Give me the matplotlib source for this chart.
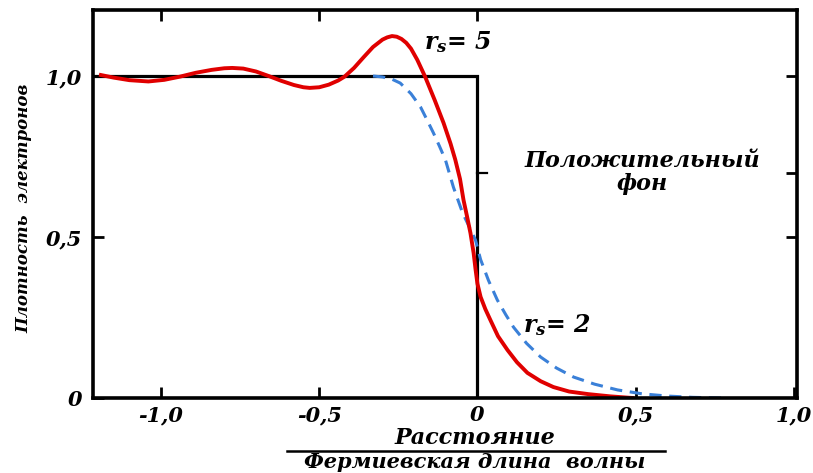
import matplotlib.pyplot as plt

plt.rcParams["mathtext.fontset"] = "custom"
plt.rcParams["mathtext.it"] = "DejaVu Serif:italic:bold"
plt.rcParams["mathtext.rm"] = "DejaVu Serif:italic:bold"

# electron density across the surface, r_s = 5 (solid) and r_s = 2 (dashed)
x_rs5 = [-1.19, -1.15, -1.10, -1.04, -0.99, -0.94, -0.89, -0.84, -0.80, -0.775,
         -0.74, -0.70, -0.66, -0.62, -0.58, -0.55, -0.53, -0.50, -0.47, -0.44,
         -0.42, -0.39, -0.36, -0.33, -0.30, -0.285, -0.27, -0.255, -0.24, -0.225,
         -0.21, -0.19, -0.165, -0.135, -0.107, -0.085, -0.07, -0.055, -0.044,
         -0.032, -0.022, -0.012, -0.006, 0.0, 0.01, 0.025, 0.041, 0.065, 0.095,
         0.125, 0.158, 0.20, 0.24, 0.29, 0.35, 0.42, 0.49]
y_rs5 = [1.003, 0.995, 0.987, 0.983, 0.988, 0.998, 1.010, 1.019, 1.024, 1.025,
         1.023, 1.014, 1.000, 0.985, 0.972, 0.965, 0.963, 0.965, 0.973, 0.986,
         0.998, 1.025, 1.058, 1.090, 1.113, 1.120, 1.124, 1.122, 1.115, 1.103,
         1.085, 1.050, 0.997, 0.925, 0.854, 0.790, 0.740, 0.680, 0.615,
         0.560, 0.512, 0.450, 0.400, 0.355, 0.314, 0.276, 0.242, 0.192, 0.149,
         0.111, 0.078, 0.052, 0.034, 0.020, 0.012, 0.005, 0.0]

x_rs2 = [-0.33, -0.30, -0.27, -0.244, -0.21, -0.18, -0.16, -0.139, -0.12, -0.101,
         -0.076, -0.047, -0.025, -0.006, 0.01, 0.035, 0.063, 0.09, 0.114, 0.155,
         0.2, 0.25, 0.304, 0.37, 0.443, 0.52, 0.60, 0.68, 0.77]
y_rs2 = [1.0, 0.997, 0.99, 0.978, 0.945, 0.904, 0.865, 0.823, 0.782, 0.739,
         0.655, 0.575, 0.53, 0.49, 0.43, 0.365, 0.304, 0.258, 0.22, 0.17,
         0.127, 0.093, 0.065, 0.043, 0.025, 0.013, 0.006, 0.002, 0.0]

# uniform positive background (step)
x_bg = [-1.215, 0.0, 0.0]
y_bg = [1.0, 1.0, 0.0]

xticks = [-1.0, -0.5, 0.0, 0.5, 1.0]
xlabels = ["-1,0", "-0,5", "0", "0,5", "1,0"]
yticks = [0.0, 0.5, 1.0]
ylabels = ["0", "0,5", "1,0"]

font = dict(family="DejaVu Serif", weight="bold", style="italic")

fig = plt.figure(figsize=(8.13, 4.73), dpi=100)
ax = fig.add_axes([0.1144, 0.1586, 0.8659, 0.8203])

ax.plot(x_bg, y_bg, color="black", lw=2.3, solid_joinstyle="miter")
ax.plot(x_rs2, y_rs2, color="#3a80d8", lw=2.2, dashes=(4, 2.5))
ax.plot(x_rs5, y_rs5, color="#e00000", lw=2.8)

ax.set_xlim(-1.215, 1.01)
ax.set_ylim(0, 1.205)

for s in ax.spines.values():
    s.set_linewidth(2.6)

ax.set_xticks(xticks)
ax.set_xticklabels(xlabels, fontsize=15, **font)
ax.set_yticks(yticks)
ax.set_yticklabels(ylabels, fontsize=15, **font)
ax.tick_params(axis="x", direction="in", length=8, width=2, pad=5)
ax.tick_params(axis="y", direction="in", length=8, width=2, pad=8)

# ticks on top and right edges
top = ax.secondary_xaxis("top")
top.set_xticks([-1.0, -0.5, 0.0])
top.set_xticklabels([])
top.tick_params(direction="in", length=8, width=2)
right = ax.secondary_yaxis("right")
right.set_yticks([0.5, 0.7, 1.0])
right.set_yticklabels([])
right.tick_params(direction="in", length=8, width=2)
ax.plot([0.0, 0.03], [0.7, 0.7], color="black", lw=1.6)

ax.set_ylabel("Плотность  электронов", fontsize=12, labelpad=6, **font)
ax.yaxis.set_label_coords(-0.086, 0.49)

ax.text(-0.17, 1.085, r"$r_s$= 5", fontsize=17, **font)
ax.text(0.145, 0.205, r"$r_s$= 2", fontsize=17, **font)
ax.text(0.52, 0.70, "Положительный\nфон", fontsize=16, ha="center", va="center",
        linespacing=1.05, **font)

fig.text(0.584, 0.073, "Расстояние", fontsize=16, ha="center", va="center", **font)
fig.add_artist(plt.Line2D([0.353, 0.818], [0.046, 0.046], color="black", lw=1.8))
fig.text(0.584, 0.024, "Фермиевская длина  волны", fontsize=15, ha="center",
         va="center", **font)

fig.savefig("out.png", dpi=100)
